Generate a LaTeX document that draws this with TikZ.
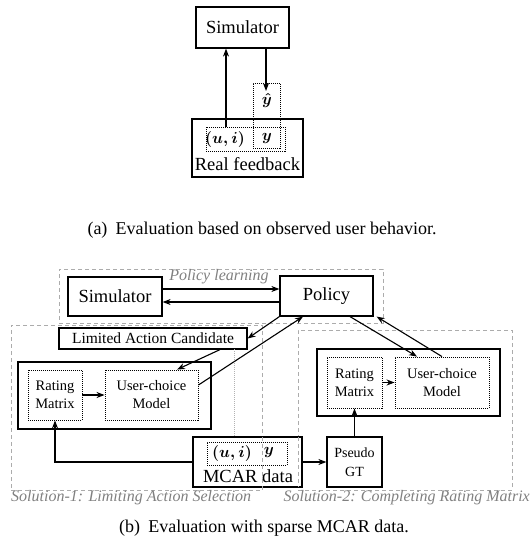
\RequirePackage{fix-cm}
\documentclass[tikz,border=0pt]{standalone}
\usepackage{amsmath}
\usepackage{fontspec}
\setmainfont{Liberation Serif}
\usetikzlibrary{arrows.meta}
\begin{document}
\begin{tikzpicture}[x=1pt,y=-1pt,
  box/.style={draw, line width=1.2pt, inner sep=0pt, align=center},
  dbox/.style={draw, line width=0.9pt, dash pattern=on 1pt off 1pt, inner sep=0pt, align=center},
  region/.style={draw=gray!65, line width=0.8pt, dash pattern=on 4pt off 3pt, inner sep=0pt},
  arr/.style={line width=1.1pt, -{Stealth[length=8pt,width=6pt,inset=2.5pt]}},
  big/.style={font=\fontsize{18.5}{22}\selectfont},
  mid/.style={font=\fontsize{14.5}{18}\selectfont},
  mth/.style={font=\fontsize{16}{18}\selectfont, inner sep=0pt},
  lbl/.style={text=gray, font=\fontsize{16}{18}\selectfont\itshape, inner sep=0pt},
  captext/.style={font=\fontsize{18}{20}\selectfont, inner sep=0pt}]
\useasboundingbox (0,0) rectangle (532,546);

% ---------- (a) ----------
\node[box, big, minimum width=93pt, minimum height=41pt] (sim1) at (242.5,27.5) {Simulator};
\node[box, minimum width=111pt, minimum height=58pt] (real) at (247.5,148) {};
\node[dbox, minimum width=79pt, minimum height=24pt] (in1) at (245.5,139) {};
\node[dbox, minimum width=27pt, minimum height=65pt] (yh) at (266.5,115.5) {};
\node[big, inner sep=0pt] (rf) at (247.5,164) {Real feedback};
\node[mth] (ui1) at (225,139) {$\boldsymbol{(u,i)}$};
\node[mth] (y1) at (267,138) {$\boldsymbol{y}$};
\node[mth] (yhat) at (267,100) {$\boldsymbol{\hat{y}}$};
\coordinate (up1) at (226,127);
\draw[arr] (up1) -- (up1 |- sim1.south);
\coordinate (dn1) at (266,48);
\draw[arr] (dn1) -- (266,91);

\node[captext] (capa) at (262,230) {(a)\hspace{0.45em}Evaluation based on observed user behavior.};

% ---------- (b) regions ----------
\node[region, minimum width=324pt, minimum height=54pt] (plr) at (221,296) {};
\node[region, minimum width=251pt, minimum height=165pt] (s1r) at (136.5,407.5) {};
\node[region, minimum width=214pt, minimum height=160pt] (s2r) at (405,410) {};
\node[lbl] (pll) at (219,277) {Policy learning};
\node[lbl, anchor=west] (s1l) at (11,498) {Solution-1: Limiting Action Selection};
\node[lbl, anchor=east] (s2l) at (530,498) {Solution-2: Completing Rating Matrix};

% ---------- (b) boxes ----------
\node[box, big, fill=white, minimum width=94pt, minimum height=39pt] (sim2) at (115,296.5) {Simulator};
\node[box, big, fill=white, minimum width=93pt, minimum height=40pt] (pol) at (326.5,296) {Policy};
\node[box, fill=white, font=\fontsize{15.5}{18}\selectfont, minimum width=188pt, minimum height=21pt] (lac) at (153,338.5) {Limited Action Candidate};

\node[box, minimum width=193pt, minimum height=67pt] (out1) at (114.5,395.5) {};
\node[dbox, mid, minimum width=54pt, minimum height=50pt] (rm1) at (55,395) {Rating\\Matrix};
\node[dbox, mid, minimum width=93pt, minimum height=50pt] (uc1) at (151.5,395) {User-choice\\Model};

\node[box, minimum width=183pt, minimum height=67pt] (out2) at (408.5,382.5) {};
\node[dbox, mid, minimum width=55pt, minimum height=51pt] (rm2) at (354.5,382.5) {Rating\\Matrix};
\node[dbox, mid, minimum width=94pt, minimum height=51pt] (uc2) at (442,382.5) {User-choice\\Model};

\coordinate (g1) at (234,349);
\node[box, fill=white, minimum width=109pt, minimum height=50pt] (mcar) at (247.5,462) {};
\draw[gray!60, line width=0.8pt, dash pattern=on 1pt off 1pt] (g1) -- (g1 |- mcar.north);
\draw[region] (262,437) -- (262,490);
\draw[region] (298,437) -- (298,487);
\node[dbox, minimum width=80pt, minimum height=23pt] (in2) at (247,453.5) {};
\node[mth] (ui2) at (232,453) {$\boldsymbol{(u,i)}$};
\node[mth] (y2) at (269,452) {$\boldsymbol{y}$};
\node[big, inner sep=0pt] (mcl) at (248,476) {MCAR data};

\node[box, font=\fontsize{14}{18.5}\selectfont, minimum width=55pt, minimum height=50pt] (pgt) at (354.5,462) {Pseudo\\GT};

% ---------- (b) arrows ----------
\coordinate (a1) at ([yshift=7.5pt]sim2.east);
\draw[arr] (a1) -- (a1 -| pol.west);
\coordinate (a2) at ([yshift=-6pt]pol.west);
\draw[arr] (a2) -- (a2 -| sim2.east);
\draw[arr] (pol.south west) -- (lac.east);
\draw[arr] ([xshift=67pt]lac.south) -- ([xshift=25.5pt]uc1.north);
\draw[arr] ([yshift=10pt]uc1.east) -- ([xshift=-23.5pt]pol.south);
\draw[arr] ([xshift=23.5pt]pol.south) -- ([xshift=-25pt]uc2.north);
\draw[arr] (uc2.north) -- ([xshift=3pt]pol.south east);
\draw[arr] (rm1.east) -- (uc1.west);
\draw[arr] (rm2.east) -- (uc2.west);
\draw[arr] (mcar.west) -- (mcar.west -| rm1.south) -- (rm1.south);
\draw[arr] (mcar.east) -- (pgt.west);
\draw[arr] (pgt.north) -- (rm2.south);

\node[captext] (capb) at (264,528) {(b)\hspace{0.45em}Evaluation with sparse MCAR data.};
\end{tikzpicture}
\end{document}
